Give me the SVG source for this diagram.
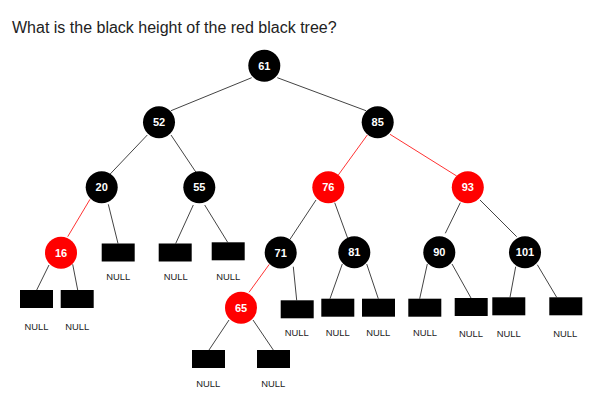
<svg xmlns="http://www.w3.org/2000/svg" width="601" height="411" viewBox="0 0 601 411">
<style>
.title{font-family:"Liberation Sans",Arial,sans-serif;font-size:16px;fill:#222}
.b{fill:#000}
.r{fill:#f00}
.nt{font-family:"Liberation Sans",Arial,sans-serif;font-size:11px;font-weight:bold;fill:#fff;text-anchor:middle}
.nl{font-family:"Liberation Sans",Arial,sans-serif;font-size:9.4px;fill:#222;text-anchor:middle}
.e{stroke:#444;stroke-width:1;fill:none}
.er{stroke:#f33;stroke-width:1;fill:none}
</style>
<rect width="601" height="411" fill="#fff"/>
<text class="title" x="12" y="33">What is the black height of the red black tree?</text>
<g id="connectors">
<line class="e" x1="251.7" y1="77.7" x2="171" y2="110.7"/>
<line class="e" x1="277.3" y1="77.7" x2="366" y2="110.7"/>
<line class="e" x1="147.3" y1="135" x2="108.3" y2="176"/>
<line class="e" x1="171" y1="135" x2="196" y2="172.3"/>
<line class="er" x1="367.3" y1="135" x2="338.3" y2="175"/>
<line class="er" x1="390" y1="134.3" x2="456.7" y2="176"/>
<line class="er" x1="90" y1="199.3" x2="67.7" y2="236.7"/>
<line class="e" x1="108.3" y1="204.3" x2="118" y2="243.5"/>
<line class="e" x1="193.3" y1="205" x2="175.7" y2="243.5"/>
<line class="e" x1="204.7" y1="205" x2="227.7" y2="242.3"/>
<line class="e" x1="49" y1="265" x2="36.7" y2="290"/>
<line class="e" x1="72.7" y1="264.3" x2="77.7" y2="290"/>
<line class="e" x1="316" y1="200" x2="290" y2="239.3"/>
<line class="e" x1="334.7" y1="202.7" x2="347.7" y2="238.3"/>
<line class="e" x1="460.3" y1="202.7" x2="445.3" y2="233.3"/>
<line class="e" x1="480" y1="200" x2="516.7" y2="236.7"/>
<line class="er" x1="269.3" y1="264.3" x2="249" y2="292.3"/>
<line class="e" x1="293.3" y1="266.7" x2="296.7" y2="300.3"/>
<line class="e" x1="342.3" y1="264" x2="330" y2="298.7"/>
<line class="e" x1="366.7" y1="264" x2="378.3" y2="298.7"/>
<line class="e" x1="427.3" y1="264" x2="419.7" y2="298.7"/>
<line class="e" x1="452" y1="264" x2="471" y2="298"/>
<line class="e" x1="515.7" y1="266.7" x2="510" y2="297.3"/>
<line class="e" x1="537.3" y1="264.7" x2="556.7" y2="297.3"/>
<line class="e" x1="229" y1="320" x2="209" y2="350"/>
<line class="e" x1="253" y1="320" x2="273.3" y2="350"/>
</g>
<g id="n61"><circle class="b" cx="264.3" cy="65.7" r="16"/><text class="nt" x="264.3" y="69.7">61</text></g>
<g id="n52"><circle class="b" cx="159" cy="122.3" r="16"/><text class="nt" x="159" y="126.3">52</text></g>
<g id="n85"><circle class="b" cx="377.7" cy="122.3" r="16"/><text class="nt" x="377.7" y="126.3">85</text></g>
<g id="n20"><circle class="b" cx="101.7" cy="187.3" r="16"/><text class="nt" x="101.7" y="191.3">20</text></g>
<g id="n55"><circle class="b" cx="199.3" cy="187.3" r="16"/><text class="nt" x="199.3" y="191.3">55</text></g>
<g id="n76"><circle class="r" cx="328.3" cy="187.3" r="16"/><text class="nt" x="328.3" y="191.3">76</text></g>
<g id="n93"><circle class="r" cx="467.8" cy="187.3" r="16"/><text class="nt" x="467.8" y="191.3">93</text></g>
<g id="n16"><circle class="r" cx="61" cy="252.7" r="16"/><text class="nt" x="61" y="256.7">16</text></g>
<g id="n71"><circle class="b" cx="280.7" cy="252.5" r="16"/><text class="nt" x="280.7" y="256.5">71</text></g>
<g id="n81"><circle class="b" cx="354.3" cy="252.3" r="16"/><text class="nt" x="354.3" y="256.3">81</text></g>
<g id="n90"><circle class="b" cx="439.3" cy="252.3" r="16"/><text class="nt" x="439.3" y="256.3">90</text></g>
<g id="n101"><circle class="b" cx="525" cy="252.3" r="16"/><text class="nt" x="525" y="256.3">101</text></g>
<g id="n65"><circle class="r" cx="241" cy="307.7" r="16"/><text class="nt" x="241" y="311.7">65</text></g>
<g id="null16L"><rect class="b" x="20" y="290" width="33" height="18"/><text class="nl" x="36.5" y="330">NULL</text></g>
<g id="null16R"><rect class="b" x="60.7" y="290" width="33" height="18"/><text class="nl" x="77.3" y="330">NULL</text></g>
<g id="null20R"><rect class="b" x="101.7" y="243.5" width="33" height="18"/><text class="nl" x="118.3" y="280">NULL</text></g>
<g id="null55L"><rect class="b" x="158.7" y="243.5" width="33" height="18"/><text class="nl" x="175.7" y="280">NULL</text></g>
<g id="null55R"><rect class="b" x="211.7" y="242.3" width="33" height="18"/><text class="nl" x="228.3" y="280">NULL</text></g>
<g id="null65L"><rect class="b" x="192" y="350" width="33" height="18"/><text class="nl" x="208.3" y="386.5">NULL</text></g>
<g id="null65R"><rect class="b" x="257" y="350" width="33" height="18"/><text class="nl" x="273.3" y="386.5">NULL</text></g>
<g id="null71R"><rect class="b" x="280.7" y="300.3" width="33" height="18"/><text class="nl" x="296.7" y="336">NULL</text></g>
<g id="null81L"><rect class="b" x="321.3" y="298.7" width="33" height="18"/><text class="nl" x="337.7" y="336">NULL</text></g>
<g id="null81R"><rect class="b" x="362" y="298.7" width="33" height="18"/><text class="nl" x="378.3" y="336">NULL</text></g>
<g id="null90L"><rect class="b" x="408.3" y="298.7" width="33" height="18"/><text class="nl" x="425" y="336">NULL</text></g>
<g id="null90R"><rect class="b" x="454.7" y="298" width="33" height="18"/><text class="nl" x="471" y="337">NULL</text></g>
<g id="null101L"><rect class="b" x="492.3" y="297.3" width="33" height="18"/><text class="nl" x="508.7" y="337">NULL</text></g>
<g id="null101R"><rect class="b" x="549.3" y="297.3" width="33" height="18"/><text class="nl" x="565.3" y="337">NULL</text></g>
</svg>
